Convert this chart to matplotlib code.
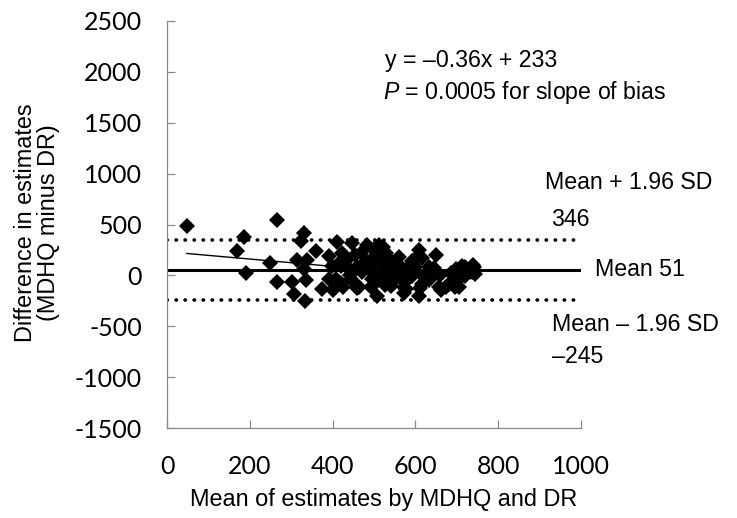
import numpy as np
import matplotlib
matplotlib.use('Agg')
import matplotlib.pyplot as plt

plt.rcParams['mathtext.fontset'] = 'custom'
plt.rcParams['mathtext.rm'] = 'Liberation Sans'
plt.rcParams['mathtext.it'] = 'Liberation Sans:italic'

# mean of the two estimates (x) and their difference (y)
mean_est = [48, 265, 187, 168, 192, 248, 265, 332, 324, 361, 315, 339, 332, 303, 336, 306, 333,
            375, 392, 410, 447, 423, 399, 409, 421, 445, 464, 483, 469, 481, 488, 495, 392, 421,
            433, 402, 430, 442, 425, 459, 459,
            512, 505, 529, 536, 495, 519, 553, 505, 519, 543, 567, 584, 608, 649, 591, 615, 632,
            577, 615, 656, 680, 697, 712, 740, 745, 721, 507, 608, 591,
            521, 504, 538, 544, 510, 493, 527, 555, 572, 572, 600, 583, 611, 629, 644, 634, 662,
            674, 695, 685, 708, 719, 742,
            500, 515, 530, 545, 560, 550, 565, 540, 520, 580, 575, 595, 470, 455, 440, 415, 500,
            560, 600, 620, 640, 660, 690, 705, 730]
diff_est = [490, 545, 380, 240, 20, 125, -65, 420, 335, 244, 148, 148, 59, -68, -42, -185, -255,
            -135, 195, 330, 320, 224, 88, -39, -75, -39, -110, 302, 224, 137, 59, -39, -39, 88,
            156, -144, 134, 0, -111, -127, 85,
            302, 234, 224, 137, 127, 88, 59, -10, -39, -68, -39, 10, 250, 205, 137, 176, 78,
            -137, -88, -117, -88, 59, 88, 107, 10, -10, -205, -205, -10,
            281, 150, 150, 85, -46, -111, -95, -13, -111, -176, 85, 3, -127, 20, 69, -46, -144,
            -111, -111, 20, -29, 85, 85,
            180, 170, 40, 20, 100, -20, 60, -100, 0, 60, -60, 30, 30, 200, 60, 120, 260,
            180, 160, -20, -10, 0, -60, -110, 40]

mean_diff = 51
upper_loa = 346
lower_loa = -245
slope = -0.36
intercept = 233

xticks = [0, 200, 400, 600, 800, 1000]
yticks = [-1500, -1000, -500, 0, 500, 1000, 1500, 2000, 2500]

fig = plt.figure(figsize=(7.37, 5.18), dpi=100)
ax = fig.add_axes([0.2266, 0.1732, 0.5617, 0.7868])

ax.plot([0, 1000], [mean_diff, mean_diff], color='black', lw=2.2, zorder=2)
ax.plot([0, 1000], [upper_loa, upper_loa], color='black', lw=2.6,
        linestyle=(0, (0.1, 2.4)), dash_capstyle='round', zorder=2)
ax.plot([0, 1000], [lower_loa, lower_loa], color='black', lw=2.6,
        linestyle=(0, (0.1, 2.4)), dash_capstyle='round', zorder=2)

xr = np.array([min(mean_est), max(mean_est)])
ax.plot(xr, slope * xr + intercept, color='black', lw=1.0, zorder=2)

ax.plot(mean_est, diff_est, linestyle='none', marker='D', ms=8,
        color='black', mec='black', mew=0, zorder=3)

ax.set_xlim(0, 1000)
ax.set_ylim(-1500, 2500)
ax.set_xticks(xticks)
ax.set_yticks(yticks)
ax.set_xticklabels([str(v) for v in xticks], fontfamily='Lato', fontsize=18)
ax.set_yticklabels([str(v) for v in yticks], fontfamily='Lato', fontsize=18)
ax.tick_params(axis='both', direction='in', length=6, width=0.9, color='#898989')
ax.tick_params(axis='y', pad=18)
ax.tick_params(axis='x', pad=19)

for s in ['top', 'right']:
    ax.spines[s].set_visible(False)
for s in ['left', 'bottom']:
    ax.spines[s].set_color('#898989')
    ax.spines[s].set_linewidth(0.9)

tf = dict(fontfamily='Liberation Sans', fontsize=16.7, va='center', ha='left', clip_on=False)
ax.text(527, 2105, 'y = \u20130.36x + 233', **tf)
ax.text(522, 1791, r'$\mathit{P}$ = 0.0005 for slope of bias', **tf)
ax.text(913, 908, 'Mean + 1.96 SD', **tf)
ax.text(928, 545, '346', **tf)
ax.text(1034, 54, 'Mean 51', **tf)
ax.text(930, -486, 'Mean \u2013 1.96 SD', **tf)
ax.text(930, -800, '\u2013245', **tf)

fig.text(0.521, 0.035, 'Mean of estimates by MDHQ and DR', fontfamily='Liberation Sans',
         fontsize=16.9, ha='center', va='center')
fig.text(0.035, 0.570, 'Difference in estimates', fontfamily='Liberation Sans',
         fontsize=16.9, ha='center', va='center', rotation=90)
fig.text(0.066, 0.570, '(MDHQ minus DR)', fontfamily='Liberation Sans',
         fontsize=16.9, ha='center', va='center', rotation=90)

fig.savefig('out.png', dpi=100)
